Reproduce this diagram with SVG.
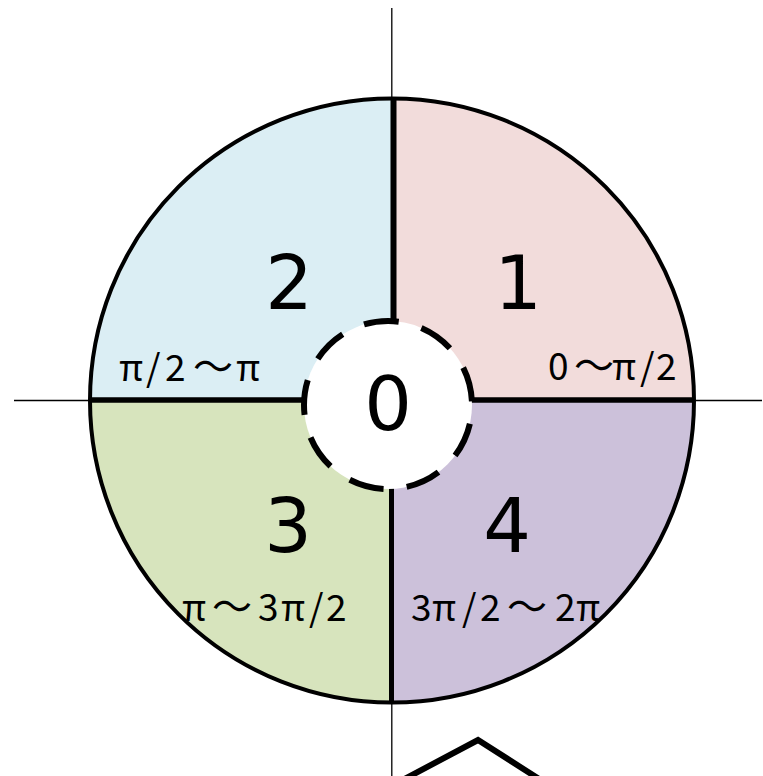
<svg xmlns="http://www.w3.org/2000/svg" width="763" height="776" viewBox="0 0 763 776">
  <style>
    .axis { stroke: #000; stroke-width: 1.3; fill: none; }
    .div { stroke: #000; fill: none; stroke-linecap: butt; }
    .big { font-family: "DejaVu Sans", sans-serif; font-size: 75px; fill: #000; text-anchor: middle; }
    .lbl { font-family: "Noto Sans CJK JP", "Noto Sans", sans-serif; font-size: 37px; fill: #000; }
    .w { font-size: 40px; }
  </style>
  <rect width="763" height="776" fill="#fff"/>
  <g id="connectors">
    <line class="axis" x1="14" y1="400.5" x2="762" y2="400.5"/>
    <line class="axis" x1="391.8" y1="8" x2="391.8" y2="776"/>
  </g>
  <g id="q1">
    <path d="M392,400.5 L392,98.5 A302,302 0 0 1 694,400.5 Z" fill="#F2DCDB"/>
  </g>
  <g id="q2">
    <path d="M392,400.5 L90,400.5 A302,302 0 0 1 392,98.5 Z" fill="#DBEEF4"/>
  </g>
  <g id="q3">
    <path d="M392,400.5 L392,702.5 A302,302 0 0 1 90,400.5 Z" fill="#D7E4BD"/>
  </g>
  <g id="q4">
    <path d="M392,400.5 L694,400.5 A302,302 0 0 1 392,702.5 Z" fill="#CCC1DA"/>
  </g>
  <g id="dividers">
    <line class="div" x1="393.5" y1="98" x2="393.5" y2="324" stroke-width="6"/>
    <line class="div" x1="391.5" y1="486" x2="391.5" y2="703" stroke-width="5"/>
    <line class="div" x1="90" y1="400" x2="306" y2="400" stroke-width="5.5"/>
    <line class="div" x1="470" y1="400" x2="694" y2="400" stroke-width="5.5"/>
  </g>
  <g id="outline">
    <circle cx="392" cy="400.5" r="302" fill="none" stroke="#000" stroke-width="4"/>
  </g>
  <g id="center">
    <circle cx="388" cy="405" r="84" fill="#fff" stroke="#000" stroke-width="6" stroke-dasharray="35.2 23.44" stroke-dashoffset="-19"/>
    <text class="big" x="388" y="430">0</text>
  </g>
  <g id="labels">
    <text class="big" x="289" y="309">2</text>
    <text class="big" x="518" y="309">1</text>
    <text class="big" x="288" y="552">3</text>
    <text class="big" x="507" y="552">4</text>
    <text class="lbl" y="381"><tspan x="119">π</tspan><tspan x="146">/</tspan><tspan x="165">2</tspan><tspan class="w" x="193">〜</tspan><tspan x="236">π</tspan></text>
    <text class="lbl" y="380"><tspan x="548">0</tspan><tspan class="w" x="574">〜</tspan><tspan x="612">π</tspan><tspan x="640">/</tspan><tspan x="656">2</tspan></text>
    <text class="lbl" y="621"><tspan x="182">π</tspan><tspan class="w" x="212">〜</tspan><tspan x="258">3</tspan><tspan x="281">π</tspan><tspan x="309">/</tspan><tspan x="326">2</tspan></text>
    <text class="lbl" y="621"><tspan x="411">3</tspan><tspan x="432">π</tspan><tspan x="462">/</tspan><tspan x="480">2</tspan><tspan class="w" x="507">〜</tspan><tspan x="555">2</tspan><tspan x="576">π</tspan></text>
  </g>
  <g id="bottom-shape">
    <polyline points="365,800 478,740 572,800" fill="none" stroke="#000" stroke-width="6" stroke-linejoin="miter"/>
  </g>
</svg>
